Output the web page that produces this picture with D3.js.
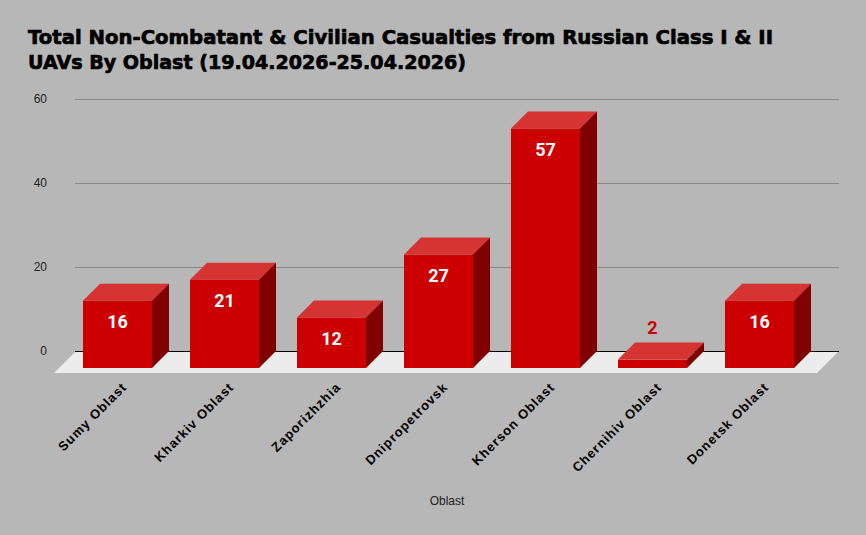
<!DOCTYPE html>
<html><head><meta charset="utf-8">
<script src="https://cdn.jsdelivr.net/npm/d3@7"></script>
<style>body{margin:0;background:#b7b7b7;}svg{display:block;}</style>
</head><body>
<script>
const categories = ["Sumy Oblast","Kharkiv Oblast","Zaporizhzhia","Dnipropetrovsk","Kherson Oblast","Chernihiv Oblast","Donetsk Oblast"];
const casualties = [16, 21, 12, 27, 57, 2, 16];
const yTicks = [0, 20, 40, 60];
const titleLines = ["Total Non-Combatant & Civilian Casualties from Russian Class I & II","UAVs By Oblast (19.04.2026-25.04.2026)"];
const xAxisTitle = "Oblast";

const W = 866, H = 535;
const svg = d3.select("body").append("svg").attr("width", W).attr("height", H);
svg.append("rect").attr("width", W).attr("height", H).attr("fill", "#b7b7b7");

const y = d3.scaleLinear().domain([0, 60]).range([351, 99]);
const x = d3.scaleBand().domain(categories).range([64, 813]).paddingInner(0.355).paddingOuter(0.1775);
const bw = x.bandwidth();
const d = 17;      // bar depth
const fd = 22;     // floor depth
const gx0 = 76, gx1 = 839;

// title
const tg = svg.append("g").attr("font-family", "DejaVu Sans, sans-serif").attr("font-weight", "bold").attr("font-size", 20)
  .attr("fill", "#000").attr("stroke", "#000").attr("stroke-width", 0.7);
tg.append("text").attr("x", 28).attr("y", 44).attr("textLength", 745).attr("lengthAdjust", "spacingAndGlyphs").text(titleLines[0]);
tg.append("text").attr("x", 28).attr("y", 69).attr("textLength", 438).attr("lengthAdjust", "spacingAndGlyphs").text(titleLines[1]);

// gridlines + y labels
svg.append("g").selectAll("line").data(yTicks.filter(t => t !== 0)).join("line")
  .attr("x1", gx0 - 1).attr("x2", gx1).attr("y1", t => y(t) + 0.5).attr("y2", t => y(t) + 0.5)
  .attr("stroke", "#888").attr("stroke-width", 1);
svg.append("g").selectAll("text").data(yTicks).join("text")
  .attr("x", 47).attr("y", t => y(t) + 4).attr("text-anchor", "end")
  .attr("font-family", "Liberation Sans, Arial, sans-serif").attr("font-size", 12).attr("fill", "#222")
  .text(t => t);

// floor
svg.append("polygon")
  .attr("points", [[gx0, y(0)], [gx1, y(0)], [gx1 - fd, y(0) + fd], [gx0 - fd, y(0) + fd]].map(p => p.join(",")).join(" "))
  .attr("fill", "#ececec");
svg.append("line").attr("x1", gx0 - 1).attr("x2", gx1).attr("y1", y(0) + 0.5).attr("y2", y(0) + 0.5)
  .attr("stroke", "#000").attr("stroke-width", 1);

// bars
const bars = svg.append("g").selectAll("g").data(categories.map((c, i) => ({c, v: casualties[i]}))).join("g");
bars.append("polygon").attr("fill", "#d63333")
  .attr("points", o => { const x0 = x(o.c), yt = y(o.v);
    return [[x0, yt + d], [x0 + d, yt], [x0 + bw + d, yt], [x0 + bw, yt + d]].map(p => p.join(",")).join(" "); });
bars.append("polygon").attr("fill", "#800000")
  .attr("points", o => { const x0 = x(o.c), yt = y(o.v), yb = y(0);
    return [[x0 + bw, yt + d], [x0 + bw + d, yt], [x0 + bw + d, yb], [x0 + bw, yb + d]].map(p => p.join(",")).join(" "); });
bars.append("rect").attr("fill", "#cc0000")
  .attr("x", o => x(o.c)).attr("y", o => y(o.v) + d)
  .attr("width", bw).attr("height", o => y(0) - y(o.v));

// value labels
bars.append("text")
  .attr("x", o => x(o.c) + bw / 2)
  .attr("y", o => (y(0) - y(o.v) > 30) ? y(o.v) + d + 27 : y(o.v) - 9)
  .attr("text-anchor", "middle")
  .attr("font-family", "Roboto, sans-serif").attr("font-weight", "bold").attr("font-size", 18)
  .attr("fill", o => (y(0) - y(o.v) > 30) ? "#ffffff" : "#cc0000")
  .text(o => o.v);

// x labels
svg.append("g").selectAll("text").data(categories).join("text")
  .attr("transform", c => `translate(${x(c) + bw / 2 + 10},${388}) rotate(-45)`)
  .attr("text-anchor", "end")
  .attr("font-family", "Liberation Sans, Arial, sans-serif").attr("font-weight", "bold").attr("font-size", 13)
  .attr("letter-spacing", 1).attr("fill", "#000")
  .text(c => c);

svg.append("text").attr("x", 447).attr("y", 505).attr("text-anchor", "middle")
  .attr("font-family", "Liberation Sans, Arial, sans-serif").attr("font-size", 12).attr("fill", "#222")
  .text(xAxisTitle);
</script>
</body></html>
